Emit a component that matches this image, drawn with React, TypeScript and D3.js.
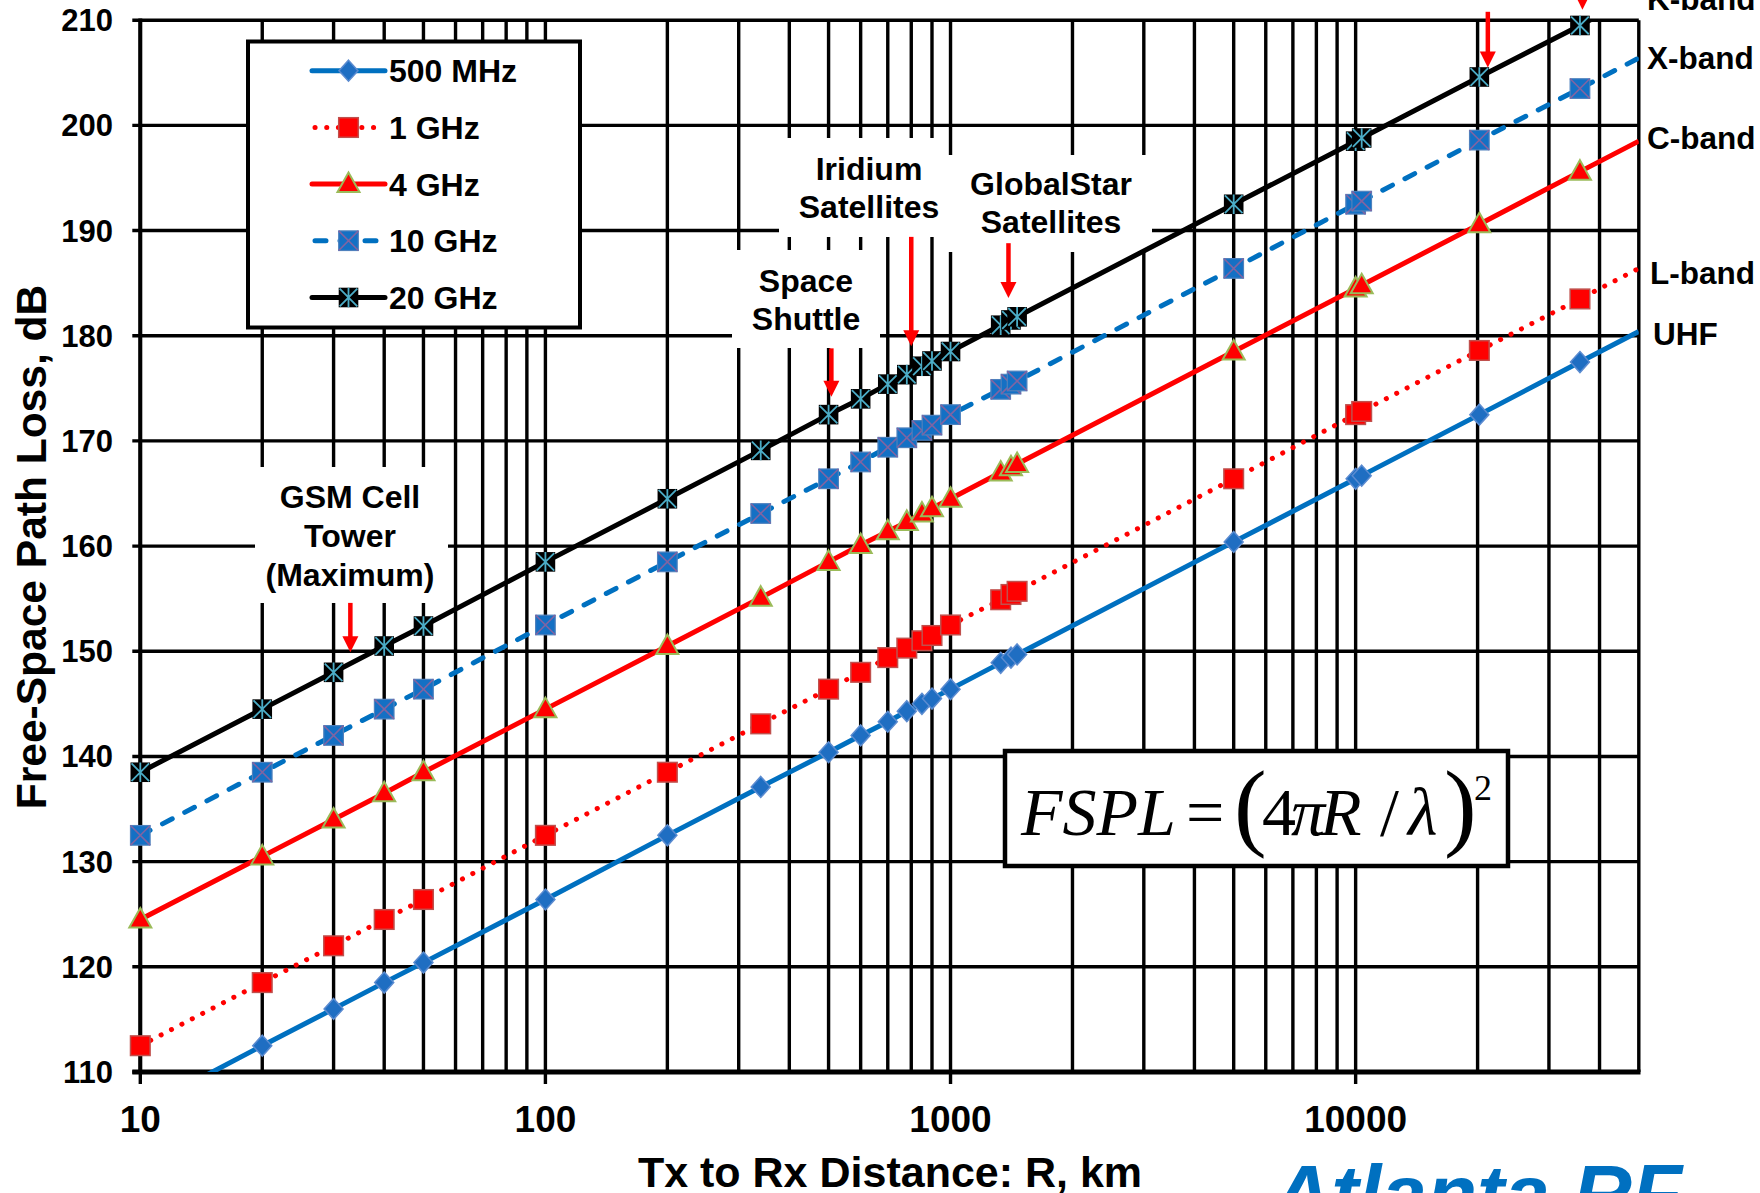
import React from 'react';
import * as d3 from 'd3';

// ---------------- data ----------------
const distancesKm = [10, 20, 30, 40, 50, 100, 200, 340, 500, 600, 700, 780, 850, 900, 1000, 1330, 1410, 1460, 5000, 10000, 10350, 20200, 35786];
const lineEndKm = 50000;

const loss500MHz = [106.4, 112.5, 116.0, 118.5, 120.4, 126.4, 132.5, 137.1, 140.4, 142.0, 143.3, 144.3, 145.0, 145.5, 146.4, 148.9, 149.4, 149.7, 160.4, 166.4, 166.7, 172.5, 177.5];
const loss1GHz = [112.5, 118.5, 122.0, 124.5, 126.4, 132.5, 138.5, 143.1, 146.4, 148.0, 149.4, 150.3, 151.0, 151.5, 152.5, 154.9, 155.4, 155.7, 166.4, 172.5, 172.8, 178.6, 183.5];
const loss4GHz = [124.5, 130.5, 134.0, 136.5, 138.5, 144.5, 150.5, 155.1, 158.5, 160.1, 161.4, 162.3, 163.1, 163.6, 164.5, 167.0, 167.5, 167.8, 178.5, 184.5, 184.8, 190.6, 195.6];
const loss10GHz = [132.5, 138.5, 142.0, 144.5, 146.4, 152.5, 158.5, 163.1, 166.4, 168.0, 169.4, 170.3, 171.0, 171.5, 172.5, 174.9, 175.4, 175.7, 186.4, 192.5, 192.8, 198.6, 203.5];
const loss20GHz = [138.5, 144.5, 148.0, 150.5, 152.4, 158.5, 164.5, 169.1, 172.5, 174.0, 175.4, 176.3, 177.1, 177.6, 178.5, 181.0, 181.5, 181.8, 192.5, 198.5, 198.8, 204.6, 209.5];
const lineEndLoss = [180.4, 186.4, 198.5, 206.4, 212.5];

const seriesNames = ['500 MHz', '1 GHz', '4 GHz', '10 GHz', '20 GHz'];
const bandLabels = ['UHF', 'L-band', 'C-band', 'X-band', 'K-band'];

const xTickLabels = [10, 100, 1000, 10000];
const yTickLabels = [110, 120, 130, 140, 150, 160, 170, 180, 190, 200, 210];

// annotation arrows: [km, from dB, to dB]
const arrowKm = [33, 508, 800, 1390, 21200, 36300];
const arrowFromDb = [154.6, 178.8, 189.4, 188.8, 210.8, 213.2];
const arrowToDb = [149.9, 174.2, 179.0, 183.6, 205.5, 211.0];

// ---------------- styles ----------------
const FONT = '"Liberation Sans", Arial, Helvetica, sans-serif';
const SERIF = '"Liberation Serif", "Times New Roman", serif';
const BLUE = '#0070C0';
const RED = '#FF0000';

type Kind = 'diamond' | 'square' | 'triangle' | 'squareX' | 'squareStar';
const seriesStyle: { color: string; dash?: string; kind: Kind }[] = [
  { color: BLUE, kind: 'diamond' },
  { color: RED, dash: '0.1 11.6', kind: 'square' },
  { color: RED, kind: 'triangle' },
  { color: BLUE, dash: '11 14', kind: 'squareX' },
  { color: '#000000', kind: 'squareStar' },
];

function Marker({ kind, cx, cy }: { kind: Kind; cx: number; cy: number }) {
  const s = 9.8;
  if (kind === 'diamond') {
    return (
      <path d={`M${cx},${cy - 10.5}L${cx + 9.5},${cy}L${cx},${cy + 10.5}L${cx - 9.5},${cy}Z`} fill="#1F6EC2" stroke="#5B8BD0" strokeWidth={1.5} />
    );
  }
  if (kind === 'square') {
    return <rect x={cx - s} y={cy - s} width={2 * s} height={2 * s} fill={RED} stroke="#C0504D" strokeWidth={1.5} />;
  }
  if (kind === 'triangle') {
    return <path d={`M${cx},${cy - 11.5}L${cx + 11},${cy + 8}L${cx - 11},${cy + 8}Z`} fill={RED} stroke="#9BBB59" strokeWidth={2} />;
  }
  if (kind === 'squareX') {
    return (
      <g>
        <rect x={cx - s} y={cy - s} width={2 * s} height={2 * s} fill="#1470C4" stroke="#4F81BD" strokeWidth={1.2} />
        <path d={`M${cx - s},${cy - s}L${cx + s},${cy + s}M${cx + s},${cy - s}L${cx - s},${cy + s}`} stroke="#8064A2" strokeWidth={1.6} />
      </g>
    );
  }
  return (
    <g>
      <rect x={cx - s} y={cy - s} width={2 * s} height={2 * s} fill="#000" />
      <path
        d={`M${cx - s + 1},${cy - s + 1}L${cx + s - 1},${cy + s - 1}M${cx + s - 1},${cy - s + 1}L${cx - s + 1},${cy + s - 1}M${cx},${cy - s}L${cx},${cy + s}`}
        stroke="#4BACC6"
        strokeWidth={1.8}
      />
    </g>
  );
}

function T({ x, y, size, anchor = 'start', sx = 1, sy = 1, weight = 'bold', fill = '#000', style = 'normal', family = FONT, children }: any) {
  return (
    <text
      transform={`translate(${x},${y}) scale(${sx},${sy})`}
      fontFamily={family}
      fontSize={size}
      fontWeight={weight}
      fontStyle={style}
      textAnchor={anchor}
      fill={fill}
    >
      {children}
    </text>
  );
}

export default function App() {
  const W = 1760;
  const H = 1193;
  const left = 140.3;
  const right = 1638.8;
  const top = 20.2;
  const bottom = 1072;

  const x = d3.scaleLog().domain([10, lineEndKm]).range([left, right]);
  const y = d3.scaleLinear().domain([110, 210]).range([bottom, top]);

  const seriesValues = [loss500MHz, loss1GHz, loss4GHz, loss10GHz, loss20GHz];
  const lineDist = [...distancesKm, lineEndKm];
  const line = d3
    .line<number>()
    .x((_, i) => x(lineDist[i]))
    .y((d) => y(d));

  const xGrid = x.ticks();
  const yGrid = yTickLabels;

  const boxes = [
    { x: 255, y: 467, w: 193, h: 136 },
    { x: 732, y: 250, w: 148, h: 98 },
    { x: 779, y: 138, w: 169, h: 99 },
    { x: 948, y: 155, w: 204, h: 97 },
  ];

  const legendY = [70.7, 127.5, 184, 240.7, 297.5];

  return (
    <svg width={W} height={H} style={{ position: 'absolute', left: 0, top: 0, background: '#fff' }}>
      <defs>
        <clipPath id="plot">
          <rect x={left} y={top} width={right - left} height={bottom - top} />
        </clipPath>
      </defs>
      <rect x={0} y={0} width={W} height={H} fill="#fff" />

      {/* gridlines */}
      {xGrid.map((v) => (
        <line key={'vx' + v} x1={x(v)} x2={x(v)} y1={top} y2={bottom} stroke="#000" strokeWidth={3.4} />
      ))}
      {yGrid.map((v) => (
        <line key={'hy' + v} x1={left - 8} x2={right} y1={y(v)} y2={y(v)} stroke="#000" strokeWidth={3.4} />
      ))}
      {xTickLabels.map((v) => (
        <line key={'tx' + v} x1={x(v)} x2={x(v)} y1={bottom} y2={bottom + 12} stroke="#000" strokeWidth={3.4} />
      ))}
      <line x1={left} x2={left} y1={top - 1.7} y2={bottom + 2} stroke="#000" strokeWidth={4} />
      <line x1={left - 8} x2={right + 1.7} y1={bottom} y2={bottom} stroke="#000" strokeWidth={5} />

      {/* annotation white boxes */}
      {boxes.map((b, i) => (
        <rect key={'b' + i} x={b.x} y={b.y} width={b.w} height={b.h} fill="#fff" />
      ))}

      {/* series */}
      {seriesValues.map((vals, si) => {
        const st = seriesStyle[si];
        const all = [...vals, lineEndLoss[si]];
        return (
          <g key={'s' + si}>
            <path
              d={line(all) || ''}
              fill="none"
              stroke={st.color}
              strokeWidth={5}
              strokeDasharray={st.dash}
              strokeLinecap={st.dash ? 'round' : 'butt'}
              clipPath="url(#plot)"
            />
            {vals.map((v, i) =>
              v >= 110 && v <= 210 ? <Marker key={i} kind={st.kind} cx={x(distancesKm[i])} cy={y(v)} /> : null
            )}
          </g>
        );
      })}

      {/* red arrows */}
      {arrowKm.map((k, i) => {
        const ax = x(k);
        const y1 = y(arrowFromDb[i]);
        const y2 = y(arrowToDb[i]);
        const hl = 16;
        return (
          <g key={'a' + i}>
            <line x1={ax} x2={ax} y1={y1} y2={y2 - hl + 2} stroke={RED} strokeWidth={4.5} />
            <path d={`M${ax - 8},${y2 - hl}L${ax + 8},${y2 - hl}L${ax},${y2}Z`} fill={RED} />
          </g>
        );
      })}

      {/* annotation texts */}
      <T x={350} y={508} size={32} anchor="middle">GSM Cell</T>
      <T x={350} y={547} size={32} anchor="middle">Tower</T>
      <T x={350} y={585.5} size={32} anchor="middle">(Maximum)</T>
      <T x={806} y={292} size={32} anchor="middle">Space</T>
      <T x={806} y={329.5} size={32} anchor="middle">Shuttle</T>
      <T x={869} y={180} size={32} anchor="middle">Iridium</T>
      <T x={869} y={217.5} size={32} anchor="middle">Satellites</T>
      <T x={1051} y={195} size={32} anchor="middle">GlobalStar</T>
      <T x={1051} y={232.5} size={32} anchor="middle">Satellites</T>

      {/* band labels */}
      <T x={1647} y={10} size={31.5}>{bandLabels[4]}</T>
      <T x={1647} y={69} size={31.5}>{bandLabels[3]}</T>
      <T x={1647} y={148.5} size={31.5}>{bandLabels[2]}</T>
      <T x={1650} y={283.5} size={31.5}>{bandLabels[1]}</T>
      <T x={1653} y={345} size={31.5}>{bandLabels[0]}</T>

      {/* legend */}
      <rect x={248} y={41.5} width={332} height={286} fill="#fff" stroke="#000" strokeWidth={4} />
      {seriesNames.map((n, i) => {
        const st = seriesStyle[i];
        const ly = legendY[i];
        return (
          <g key={'l' + i}>
            <line
              x1={st.dash ? 315 : 312}
              x2={385}
              y1={ly}
              y2={ly}
              stroke={st.color}
              strokeWidth={5}
              strokeDasharray={st.dash}
              strokeLinecap="round"
            />
            <Marker kind={st.kind} cx={348.5} cy={ly} />
            <T x={389} y={ly + 11.5} size={32}>{n}</T>
          </g>
        );
      })}

      {/* formula box */}
      <rect x={1005} y={751} width={503} height={115} fill="#fff" stroke="#000" strokeWidth={4.5} />
      <g fontFamily={SERIF} fill="#000">
        <text x={1021} y={835} fontSize={68} fontStyle="italic">FSPL</text>
        <text x={1186} y={835} fontSize={68}>=</text>
        <text x={1234} y={838} fontSize={98}>(</text>
        <text x={1262} y={835} fontSize={68}>4</text>
        <text x={1291} y={835} fontSize={68} fontStyle="italic">π</text>
        <text x={1320} y={835} fontSize={68} fontStyle="italic">R</text>
        <text x={1380} y={835} fontSize={68}>/</text>
        <text x={1408} y={835} fontSize={68} fontStyle="italic">λ</text>
        <text x={1444} y={838} fontSize={98}>)</text>
        <text x={1474} y={800} fontSize={36}>2</text>
      </g>

      {/* tick labels */}
      {yTickLabels.map((v) => (
        <T key={'yl' + v} x={113} y={y(v) + 11} size={31} anchor="end">{v}</T>
      ))}
      {xTickLabels.map((v) => (
        <T key={'xl' + v} x={x(v)} y={1132} size={37} anchor="middle">{v}</T>
      ))}

      {/* axis titles */}
      <T x={890} y={1187} size={43} anchor="middle">Tx to Rx Distance: R, km</T>
      <g transform={`translate(46,547) rotate(-90)`}>
        <T x={0} y={0} size={42.5} anchor="middle">Free-Space Path Loss, dB</T>
      </g>

      {/* watermark */}
      <T x={1272} y={1222} size={82} style="italic" fill={BLUE}>Atlanta RF</T>
    </svg>
  );
}
